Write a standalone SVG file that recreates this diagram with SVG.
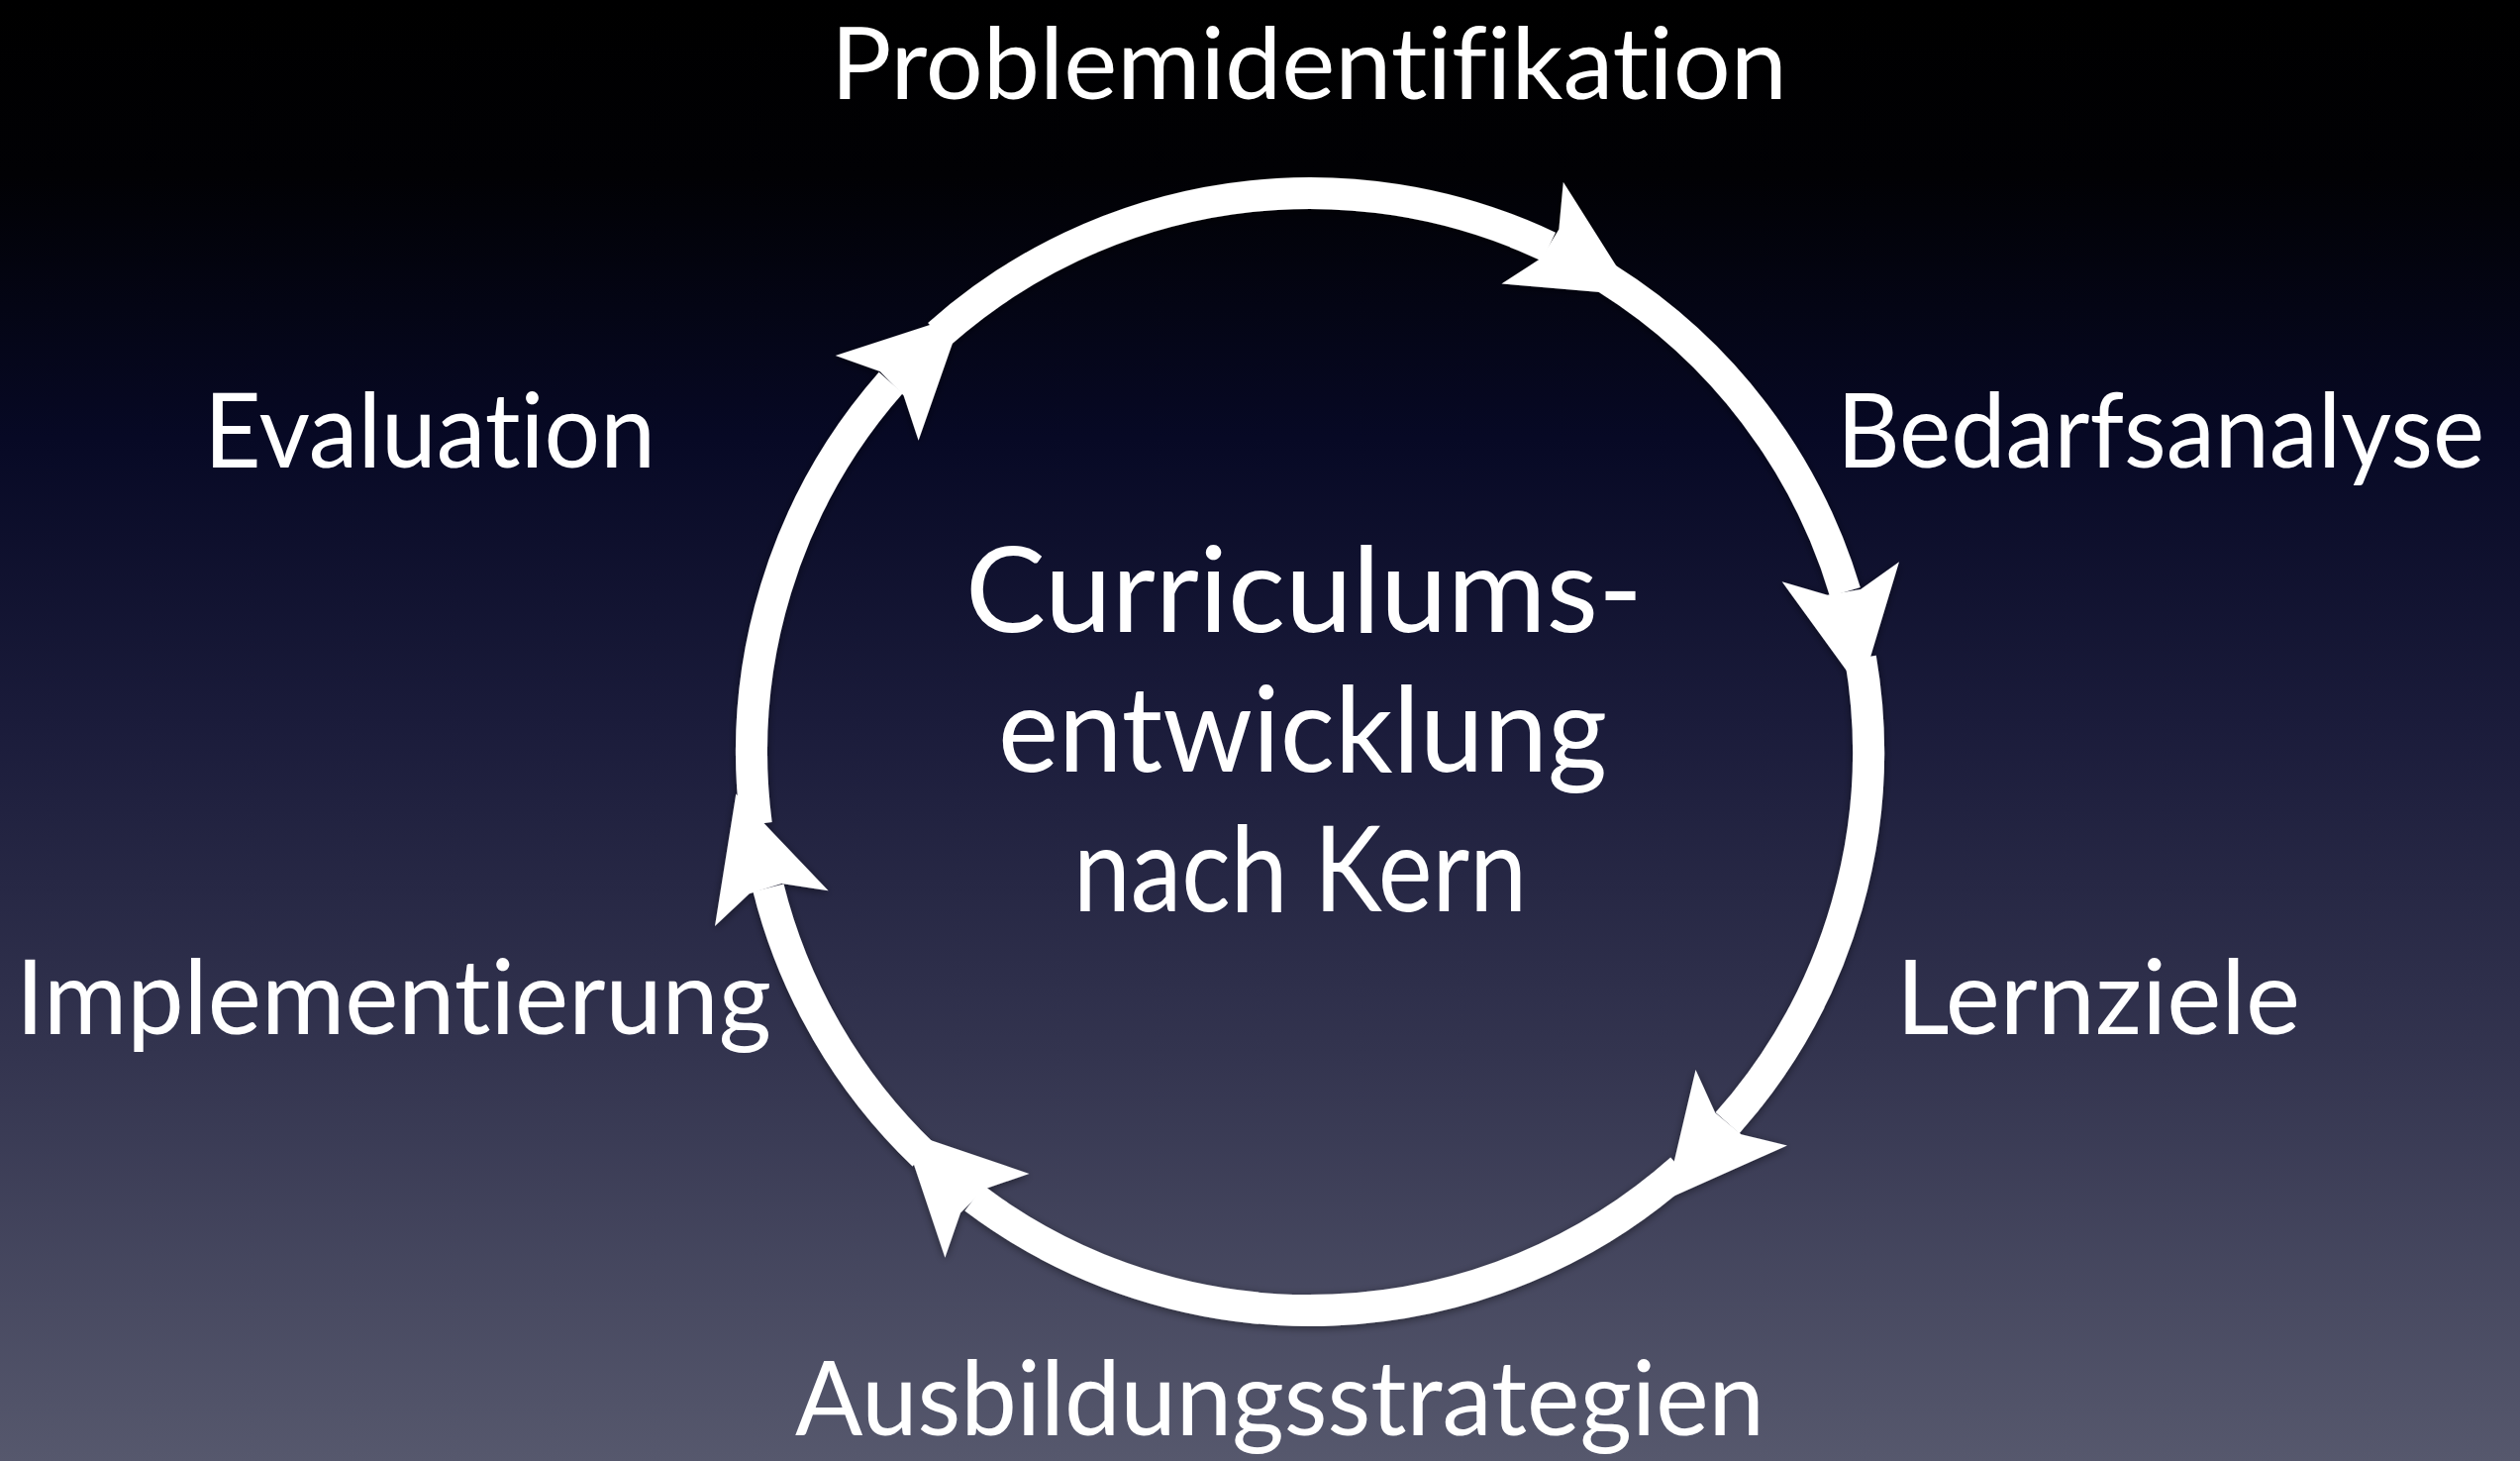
<svg xmlns="http://www.w3.org/2000/svg" xmlns:xlink="http://www.w3.org/1999/xlink" width="2545" height="1475" viewBox="0 0 2545 1475">
  <defs>
    <linearGradient id="bg" x1="0" y1="0" x2="0" y2="1">
      <stop offset="0" stop-color="#000000"/>
      <stop offset="0.12" stop-color="#010104"/>
      <stop offset="0.3" stop-color="#070925"/>
      <stop offset="0.5" stop-color="#1b1c3b"/>
      <stop offset="0.72" stop-color="#33344f"/>
      <stop offset="1" stop-color="#56586d"/>
    </linearGradient>
    <filter id="shadow" x="-10%" y="-10%" width="120%" height="120%">
      <feDropShadow dx="0" dy="2" stdDeviation="4" flood-color="#000000" flood-opacity="0.45"/>
    </filter>
    <path id="ah" d="M0 0 L-121 -60 L-100 -17 L-100 17 L-121 60 Z"/>
    <style>
      .lbl { font-family: Lato, "Open Sans", "Liberation Sans", sans-serif; font-size: 104px; fill: #ffffff; font-variant-ligatures: none; font-feature-settings: "liga" 0, "clig" 0; }
      .top { font-size: 100px; }
      .ctr { font-family: Lato, "Open Sans", "Liberation Sans", sans-serif; font-size: 120px; fill: #ffffff; font-variant-ligatures: none; font-feature-settings: "liga" 0, "clig" 0; }
      .arc { fill: none; stroke: #ffffff; stroke-width: 32; }
      .head { fill: #ffffff; }
    </style>
  </defs>
  <rect x="0" y="0" width="2545" height="1475" fill="url(#bg)"/>

  <g id="connectors" filter="url(#shadow)">
    <path class="arc" d="M947.8 337.9 A564 564 0 0 1 1564.1 249.1"/>
    <path class="arc" d="M1622.9 281.3 A564 564 0 0 1 1863.4 597.6"/>
    <path class="arc" d="M1879.0 664.4 A564 564 0 0 1 1744.6 1133.7"/>
    <path class="arc" d="M1697.8 1180.5 A564 564 0 0 1 984.0 1209.8"/>
    <path class="arc" d="M932.6 1166.0 A564 564 0 0 1 776.0 896.4"/>
    <path class="arc" d="M763.8 832.1 A564 564 0 0 1 899.7 386.4"/>
    <use class="head" xlink:href="#ah" transform="translate(1651 298) rotate(31.3)"/>
    <use class="head" xlink:href="#ah" transform="translate(1879 696.5) rotate(80.4)"/>
    <use class="head" xlink:href="#ah" transform="translate(1681.6 1211.4) rotate(129.6)"/>
    <use class="head" xlink:href="#ah" transform="translate(911.5 1141.6) rotate(225.1)"/>
    <use class="head" xlink:href="#ah" transform="translate(743.3 801.6) rotate(-107.3)"/>
    <use class="head" xlink:href="#ah" transform="translate(972.2 317.2) rotate(-44.35)"/>
  </g>

  <g id="node-center">
    <text class="ctr" x="975" y="638" textLength="684" lengthAdjust="spacingAndGlyphs">Curriculums-</text>
    <text class="ctr" x="1008" y="779" textLength="615" lengthAdjust="spacingAndGlyphs">entwicklung</text>
    <text class="ctr" x="1084" y="920" textLength="458" lengthAdjust="spacingAndGlyphs">nach Kern</text>
  </g>
  <g id="node-problemidentifikation">
    <text class="lbl top" x="839" y="100" textLength="966" lengthAdjust="spacingAndGlyphs">Problemidentifikation</text>
  </g>
  <g id="node-bedarfsanalyse">
    <text class="lbl" x="1855" y="472" textLength="654" lengthAdjust="spacingAndGlyphs">Bedarfsanalyse</text>
  </g>
  <g id="node-lernziele">
    <text class="lbl" x="1915" y="1044" textLength="408" lengthAdjust="spacingAndGlyphs">Lernziele</text>
  </g>
  <g id="node-ausbildungsstrategien">
    <text class="lbl" x="803" y="1449" textLength="979" lengthAdjust="spacingAndGlyphs">Ausbildungsstrategien</text>
  </g>
  <g id="node-implementierung">
    <text class="lbl" x="16" y="1044" textLength="763" lengthAdjust="spacingAndGlyphs">Implementierung</text>
  </g>
  <g id="node-evaluation">
    <text class="lbl" x="206" y="472" textLength="456" lengthAdjust="spacingAndGlyphs">Evaluation</text>
  </g>
</svg>
